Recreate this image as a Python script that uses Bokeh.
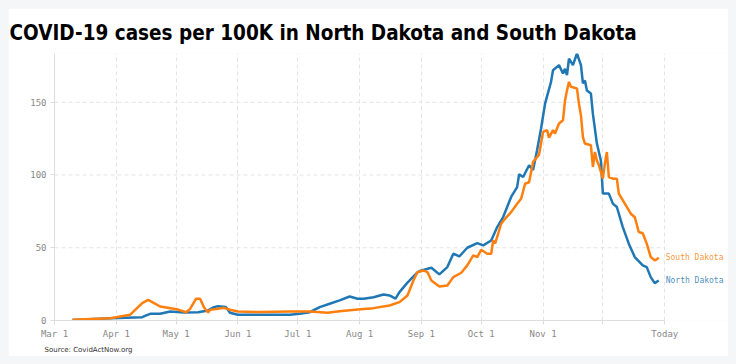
import pandas as pd
from bokeh.plotting import figure
from bokeh.layouts import column
from bokeh.models import Range1d, FixedTicker, Label, Title
from bokeh.embed import file_html
from bokeh.resources import INLINE

START = "2020-03-01"

# North Dakota: day offset from Mar 1 2020, cases per 100K
nd_day = [9, 28, 44, 46, 48, 53, 58, 65, 72, 77, 80, 82, 86, 88, 92, 103, 112, 118,
          123, 128, 133, 138, 143, 148, 152, 155, 160, 165, 168, 171, 173, 177, 182,
          184, 189, 193, 197, 200, 203, 207, 212, 215, 219, 222, 225, 229, 232, 233,
          235, 238, 240, 242, 244, 246, 249, 250, 253, 255, 256, 257, 258, 260, 262,
          264, 265, 266, 267, 269, 270, 272, 274, 275, 278, 280, 282, 285, 288, 291,
          295, 297, 299, 301, 303]
nd_value = [0.3, 1.5, 2.3, 3.5, 4.6, 4.6, 6.2, 5.5, 5.7, 6.9, 9.2, 9.8, 9.2, 5.3, 3.9,
            3.9, 3.9, 4.0, 4.6, 5.7, 9.2, 11.5, 13.8, 16.5, 14.9, 15.0, 16.0, 17.9, 17.2,
            15.0, 19.5, 26.0, 33.0, 34.4, 36.3, 31.7, 36.7, 45.9, 44.0, 50.0, 53.2, 51.6,
            55.0, 64.2, 71.1, 84.9, 91.7, 100.5, 98.6, 106.7, 103.5, 117.0, 132.0, 149.0,
            164.0, 172.0, 175.5, 169.8, 173.0, 168.6, 180.0, 175.5, 183.5, 175.5, 163.0,
            165.0, 158.0, 156.0, 142.0, 121.6, 110.0, 87.2, 87.2, 80.3, 78.0, 64.2, 52.8,
            43.6, 37.9, 36.7, 29.8, 25.7, 27.5]

# South Dakota
sd_day = [9, 28, 38, 44, 47, 53, 62, 66, 68, 71, 73, 75, 77, 78, 82, 85, 88, 92, 103,
          118, 128, 137, 143, 152, 160, 168, 173, 177, 180, 182, 185, 187, 189, 193,
          197, 200, 204, 207, 210, 212, 214, 217, 219, 220, 221, 224, 226, 229, 232,
          234, 236, 238, 240, 243, 245, 247, 248, 250, 251, 253, 255, 256, 257, 258,
          259, 262, 263, 264, 265, 266, 269, 270, 271, 272, 273, 275, 276, 277, 278,
          280, 282, 283, 286, 289, 291, 293, 295, 297, 299, 301, 302, 303]
sd_value = [0.5, 1.6, 4.0, 12.0, 14.2, 9.6, 7.5, 5.7, 8.0, 15.0, 15.0, 9.0, 5.5, 7.3,
            8.0, 8.7, 7.4, 6.2, 5.8, 6.2, 6.2, 5.3, 6.4, 7.6, 8.5, 10.3, 12.6, 17.2, 27.5,
            33.2, 34.4, 33.3, 27.5, 23.4, 24.0, 29.8, 32.8, 37.9, 44.7, 43.6, 48.6, 45.9,
            45.9, 55.0, 53.0, 66.5, 70.0, 74.5, 80.3, 83.7, 94.0, 95.0, 109.0, 114.0,
            129.6, 130.8, 125.7, 130.8, 128.5, 135.4, 137.6, 151.0, 158.0, 164.0, 160.6,
            159.5, 149.0, 141.0, 126.0, 121.6, 120.4, 105.5, 115.8, 110.0, 106.7, 97.5,
            107.8, 115.8, 98.6, 97.5, 97.5, 87.2, 80.3, 73.4, 71.0, 60.8, 60.0, 52.8,
            43.6, 41.3, 42.0, 43.2]

tick_dates = ["2020-03-01", "2020-04-01", "2020-05-01", "2020-06-01", "2020-07-01",
              "2020-08-01", "2020-09-01", "2020-10-01", "2020-11-01", "2020-12-01",
              "2021-01-01"]
tick_labels = ["Mar 1", "Apr 1", "May 1", "Jun 1", "Jul 1", "Aug 1", "Sep 1", "Oct 1",
               "Nov 1", "", "Today"]
y_ticks = [0, 50, 100, 150]

series = [("North Dakota", nd_day, nd_value, "#1f77b4"),
          ("South Dakota", sd_day, sd_value, "#ff7f0e")]

def to_ms(d):
    return pd.Timestamp(d).value / 1e6

start = pd.Timestamp(START)
today = pd.Timestamp(tick_dates[-1])
view_end = today + pd.Timedelta(days=32)   # room for the end labels
ymax = max(max(nd_value), max(sd_value))

p = figure(width=720, height=348, x_axis_type="datetime",
           x_range=Range1d(start=start, end=view_end), y_range=Range1d(0, ymax),
           output_backend="svg", toolbar_location=None,
           min_border_left=46, min_border_right=0, min_border_top=45,
           min_border_bottom=36)
p.title.text = "COVID-19 cases per 100K in North Dakota and South Dakota"
p.title.text_font = "DejaVu Sans Condensed"
p.title.text_font_style = "bold"
p.title.text_font_size = "20.5px"
p.title.text_color = "#000000"
p.title.offset = -45
p.title.standoff = 18
p.outline_line_color = None
p.background_fill_color = "white"
p.border_fill_color = "white"

# horizontal dashed grid lines stopping at "Today"
p.ygrid.visible = False
p.segment(x0=[start] * (len(y_ticks) - 1), x1=[today] * (len(y_ticks) - 1),
          y0=y_ticks[1:], y1=y_ticks[1:], line_color="#e4e4e4", line_dash="4 3",
          line_width=1, level="underlay")

for name, days, vals, color in series:
    dates = start + pd.to_timedelta(days, unit="D")
    p.line(dates, vals, line_color=color, line_width=2.5)
    p.add_layout(Label(x=to_ms(dates[-1]), y=vals[-1], text=name, x_offset=7,
                       text_baseline="middle", text_font="DejaVu Sans Mono",
                       text_font_size="8px", text_color=color, text_alpha=0.85))

p.xaxis.ticker = FixedTicker(ticks=[to_ms(d) for d in tick_dates])
p.xaxis.major_label_overrides = {to_ms(d): l for d, l in zip(tick_dates, tick_labels)}
p.xaxis.bounds = (to_ms(start), to_ms(today))
p.yaxis.ticker = FixedTicker(ticks=y_ticks)
for ax in (p.xaxis, p.yaxis):
    ax.axis_line_color = "#dddddd"
    ax.major_tick_line_color = "#dddddd"
    ax.major_tick_in = 0
    ax.major_tick_out = 4
    ax.minor_tick_line_color = None
    ax.major_label_text_font = "DejaVu Sans Mono"
    ax.major_label_text_font_size = "9px"
    ax.major_label_text_color = "#888888"
    ax.major_label_standoff = 4

p.xgrid.grid_line_color = "#e4e4e4"
p.xgrid.grid_line_dash = "4 3"

src = Title(text="Source: CovidActNow.org", align="left", text_font="DejaVu Sans",
            text_font_size="7px", text_font_style="normal", text_color="#333333",
            offset=-10, standoff=5)
p.add_layout(src, "below")

page = column(p, styles={"padding": "8px", "background-color": "#f5f6f8"})

open("out.html", "w").write(file_html(page, INLINE))
